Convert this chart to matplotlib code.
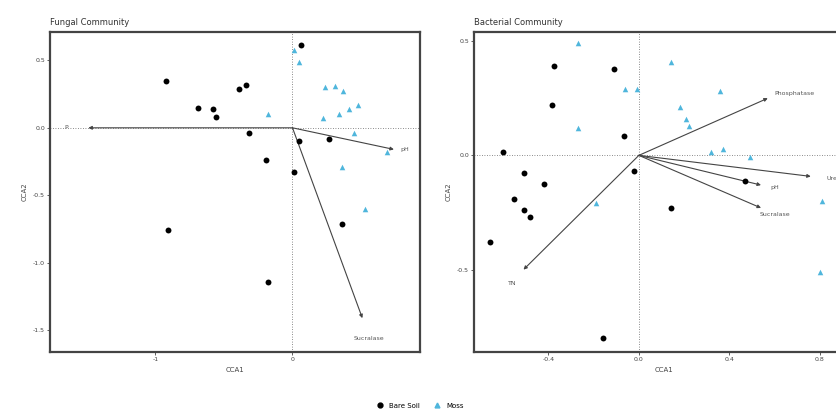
import matplotlib
matplotlib.use("Agg")
import matplotlib.pyplot as plt
from matplotlib.lines import Line2D

# Fungal community - site scores
FUN_SOIL_X = [0.06, -0.92, -0.69, -0.58, -0.56, -0.39, -0.34, -0.32, -0.19, 0.01, 0.05, 0.27, -0.91, -0.18, 0.36]
FUN_SOIL_Y = [0.61, 0.35, 0.15, 0.14, 0.08, 0.29, 0.32, -0.04, -0.24, -0.33, -0.10, -0.08, -0.76, -1.14, -0.71]
FUN_MOSS_X = [0.01, 0.05, -0.18, 0.24, 0.31, 0.37, 0.22, 0.34, 0.41, 0.48, 0.45, 0.69, 0.36, 0.53]
FUN_MOSS_Y = [0.58, 0.49, 0.10, 0.30, 0.31, 0.27, 0.07, 0.10, 0.14, 0.17, -0.04, -0.18, -0.29, -0.60]
FUN_ENV = ["P", "pH", "Sucralase"]
FUN_ENV_X = [-1.49, 0.74, 0.51]
FUN_ENV_Y = [0.0, -0.16, -1.41]

# Bacterial community - site scores
BAC_SOIL_X = [-0.376, -0.11, -0.385, -0.066, -0.60, -0.51, -0.42, -0.02, 0.47, -0.55, -0.51, -0.48, -0.66, 0.14, -0.16]
BAC_SOIL_Y = [0.39, 0.38, 0.22, 0.083, 0.013, -0.075, -0.125, -0.07, -0.114, -0.19, -0.24, -0.27, -0.38, -0.23, -0.80]
BAC_MOSS_X = [-0.27, 0.14, -0.06, -0.01, 0.36, 0.18, 0.21, 0.22, -0.27, 0.32, 0.37, 0.49, 0.81, -0.19, 0.80]
BAC_MOSS_Y = [0.49, 0.41, 0.29, 0.29, 0.28, 0.21, 0.16, 0.13, 0.12, 0.013, 0.03, -0.008, -0.20, -0.21, -0.51]
BAC_ENV = ["Phosphatase", "Urease", "pH", "Sucralase", "TN"]
BAC_ENV_X = [0.57, 0.76, 0.54, 0.54, -0.51]
BAC_ENV_Y = [0.25, -0.092, -0.13, -0.23, -0.50]

SOIL_COLOR = "black"
MOSS_COLOR = "#4fb6dc"
GREY = "#555555"


def draw_panel(ax, title, sx, sy, mx, my, env, ex, ey, xlim, ylim, xticks, yticks, xlabels, offsets):
    ax.axhline(0, color="#666666", lw=0.6, ls=(0, (1, 2)), zorder=1)
    ax.axvline(0, color="#666666", lw=0.6, ls=(0, (1, 2)), zorder=1)
    ax.scatter(sx, sy, s=18, marker="o", color=SOIL_COLOR, zorder=3, linewidths=0)
    ax.scatter(mx, my, s=16, marker="^", color=MOSS_COLOR, zorder=3, linewidths=0)
    for name, x, y, (dx, dy) in zip(env, ex, ey, offsets):
        ax.annotate("", xy=(x, y), xytext=(0, 0),
                    arrowprops=dict(arrowstyle="-|>", color="#444444", lw=0.8,
                                    mutation_scale=5, shrinkA=0, shrinkB=0),
                    zorder=2)
        ax.text(x + dx, y + dy, name, fontsize=4.5, color=GREY,
                ha="center", va="center")
    ax.set_xlim(*xlim)
    ax.set_ylim(*ylim)
    ax.set_xticks(xticks)
    ax.set_yticks(yticks)
    ax.set_xticklabels(xlabels)
    ax.set_yticklabels([f"{t:.1f}" for t in yticks])
    ax.tick_params(labelsize=4.5, colors="#444444", length=2, width=0.6, pad=1.5)
    for sp in ax.spines.values():
        sp.set_linewidth(1.6)
        sp.set_color("#444444")
    ax.set_xlabel("CCA1", fontsize=5, color="#444444", labelpad=4)
    ax.set_ylabel("CCA2", fontsize=5, color="#444444", labelpad=4)
    ax.set_title(title, fontsize=6, loc="left", color="#333333", pad=5)


fig = plt.figure(figsize=(8.37, 4.15), dpi=100)
ax1 = fig.add_axes([0.0597, 0.152, 0.442, 0.771])
ax2 = fig.add_axes([0.566, 0.152, 0.454, 0.771])

draw_panel(ax1, "Fungal Community", FUN_SOIL_X, FUN_SOIL_Y, FUN_MOSS_X, FUN_MOSS_Y,
           FUN_ENV, FUN_ENV_X, FUN_ENV_Y, (-1.77, 0.93), (-1.66, 0.71),
           [-1, 0], [0.5, 0.0, -0.5, -1.0, -1.5], ["-1", "0"],
           [(-0.16, 0.0), (0.08, 0.0), (0.05, -0.15)])
draw_panel(ax2, "Bacterial Community", BAC_SOIL_X, BAC_SOIL_Y, BAC_MOSS_X, BAC_MOSS_Y,
           BAC_ENV, BAC_ENV_X, BAC_ENV_Y, (-0.73, 0.95), (-0.86, 0.54),
           [-0.4, 0.0, 0.4, 0.8], [0.5, 0.0, -0.5], ["-0.4", "0.0", "0.4", "0.8"],
           [(0.12, 0.02), (0.12, -0.01), (0.06, -0.01), (0.06, -0.03), (-0.05, -0.06)])

handles = [Line2D([], [], marker="o", ls="", color=SOIL_COLOR, markersize=3.5),
           Line2D([], [], marker="^", ls="", color=MOSS_COLOR, markersize=3.5)]
fig.legend(handles, ["Bare Soil", "Moss"], loc="center", bbox_to_anchor=(0.5, 0.022),
           ncol=2, frameon=False, fontsize=5, handletextpad=0.3, columnspacing=1.5)

fig.savefig("out.png", dpi=100)
